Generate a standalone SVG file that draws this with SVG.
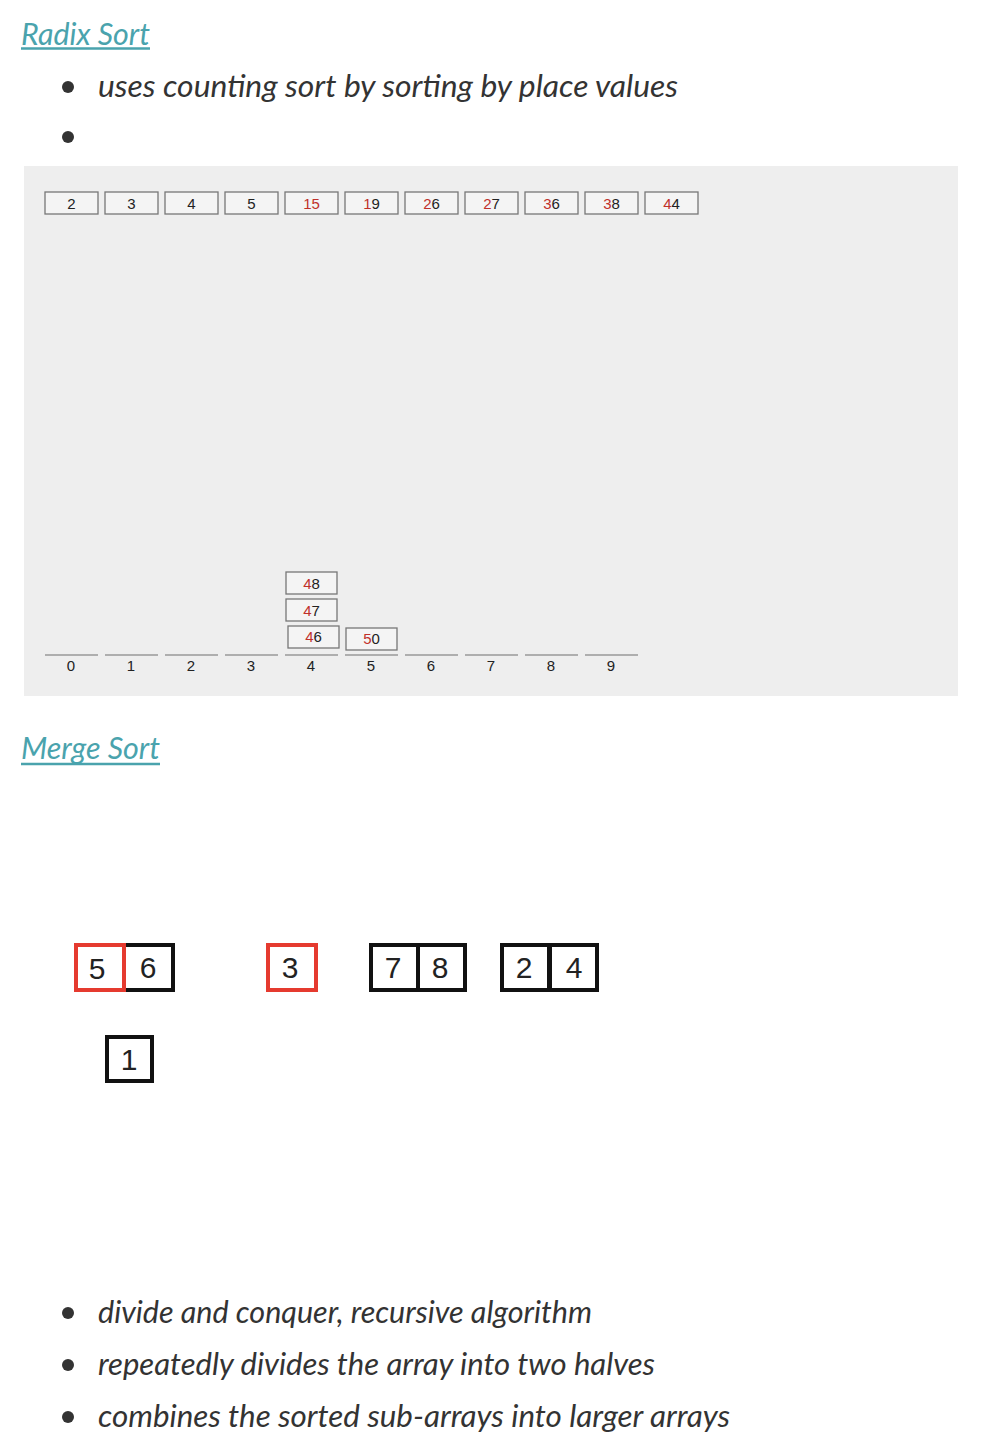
<svg xmlns="http://www.w3.org/2000/svg" width="982" height="1452" viewBox="0 0 982 1452">
<style>
.h{font-family:Lato,"Open Sans",sans-serif;font-style:italic;font-size:30px;fill:#4aa3ad}
.ul{stroke:#4aa3ad;stroke-width:2.5}
.t{font-family:Lato,"Open Sans",sans-serif;font-style:italic;font-size:30px;fill:#333}
.dot{fill:#333}
.cell{fill:#f4f4f4;stroke:#777;stroke-width:1.3}
.ct{font-family:"Liberation Sans",Arial,sans-serif;font-size:15px;fill:#222;text-anchor:middle}
.r{fill:#c0302a}
.bl{stroke:#999;stroke-width:1.5}
.lb{font-family:"Liberation Sans",Arial,sans-serif;font-size:15px;fill:#222;text-anchor:middle}
.mb{fill:#fff;stroke:#111;stroke-width:4}
.mr{fill:#fff;stroke:#e53a2f;stroke-width:4}
.mt{font-family:"Liberation Sans",Arial,sans-serif;font-size:30px;fill:#222;text-anchor:middle}
</style>
<rect width="982" height="1452" fill="#fff"/>
<g id="radix-heading">
<text class="h" x="21" y="45" textLength="129" lengthAdjust="spacingAndGlyphs">Radix Sort</text>
<line class="ul" x1="21" y1="48.5" x2="150" y2="48.5"/>
</g>
<g id="radix-bullets">
<circle class="dot" cx="68" cy="87" r="6"/>
<text class="t" x="98" y="97" textLength="580" lengthAdjust="spacingAndGlyphs">uses counting sort by sorting by place values</text>
<circle class="dot" cx="68" cy="137" r="6"/>
</g>
<g id="radix-panel">
<rect x="24" y="166" width="934" height="530" fill="#eeeeee"/>
</g>
<g id="radix-row">
<rect class="cell" x="45" y="192" width="53" height="22"/><text class="ct" x="71.5" y="209">2</text>
<rect class="cell" x="105" y="192" width="53" height="22"/><text class="ct" x="131.5" y="209">3</text>
<rect class="cell" x="165" y="192" width="53" height="22"/><text class="ct" x="191.5" y="209">4</text>
<rect class="cell" x="225" y="192" width="53" height="22"/><text class="ct" x="251.5" y="209">5</text>
<rect class="cell" x="285" y="192" width="53" height="22"/><text class="ct" x="311.5" y="209"><tspan class="r">1</tspan><tspan class="r">5</tspan></text>
<rect class="cell" x="345" y="192" width="53" height="22"/><text class="ct" x="371.5" y="209"><tspan class="r">1</tspan>9</text>
<rect class="cell" x="405" y="192" width="53" height="22"/><text class="ct" x="431.5" y="209"><tspan class="r">2</tspan>6</text>
<rect class="cell" x="465" y="192" width="53" height="22"/><text class="ct" x="491.5" y="209"><tspan class="r">2</tspan>7</text>
<rect class="cell" x="525" y="192" width="53" height="22"/><text class="ct" x="551.5" y="209"><tspan class="r">3</tspan>6</text>
<rect class="cell" x="585" y="192" width="53" height="22"/><text class="ct" x="611.5" y="209"><tspan class="r">3</tspan>8</text>
<rect class="cell" x="645" y="192" width="53" height="22"/><text class="ct" x="671.5" y="209"><tspan class="r">4</tspan>4</text>
</g>
<g id="radix-buckets">
<line class="bl" x1="45" y1="655" x2="98" y2="655"/><text class="lb" x="71" y="671">0</text>
<line class="bl" x1="105" y1="655" x2="158" y2="655"/><text class="lb" x="131" y="671">1</text>
<line class="bl" x1="165" y1="655" x2="218" y2="655"/><text class="lb" x="191" y="671">2</text>
<line class="bl" x1="225" y1="655" x2="278" y2="655"/><text class="lb" x="251" y="671">3</text>
<line class="bl" x1="285" y1="655" x2="338" y2="655"/><text class="lb" x="311" y="671">4</text>
<line class="bl" x1="345" y1="655" x2="398" y2="655"/><text class="lb" x="371" y="671">5</text>
<line class="bl" x1="405" y1="655" x2="458" y2="655"/><text class="lb" x="431" y="671">6</text>
<line class="bl" x1="465" y1="655" x2="518" y2="655"/><text class="lb" x="491" y="671">7</text>
<line class="bl" x1="525" y1="655" x2="578" y2="655"/><text class="lb" x="551" y="671">8</text>
<line class="bl" x1="585" y1="655" x2="638" y2="655"/><text class="lb" x="611" y="671">9</text>
</g>
<g id="radix-stack">
<rect class="cell" x="286" y="572" width="51" height="22"/><text class="ct" x="311.5" y="589"><tspan class="r">4</tspan>8</text>
<rect class="cell" x="286" y="599" width="51" height="22"/><text class="ct" x="311.5" y="616"><tspan class="r">4</tspan>7</text>
<rect class="cell" x="288" y="626" width="51" height="22"/><text class="ct" x="313.5" y="642"><tspan class="r">4</tspan>6</text>
<rect class="cell" x="346" y="628" width="51" height="22"/><text class="ct" x="371.5" y="644"><tspan class="r">5</tspan>0</text>
</g>
<g id="merge-heading">
<text class="h" x="21" y="759" textLength="139" lengthAdjust="spacingAndGlyphs">Merge Sort</text>
<line class="ul" x1="21" y1="764" x2="160" y2="764"/>
</g>
<g id="merge-56">
<rect class="mb" x="124" y="945" width="49" height="45"/>
<rect class="mr" x="76" y="945" width="48" height="45"/>
<text class="mt" x="97" y="979">5</text>
<text class="mt" x="148" y="978">6</text>
</g>
<g id="merge-3">
<rect class="mr" x="268" y="945" width="48" height="45"/>
<text class="mt" x="290" y="978">3</text>
</g>
<g id="merge-78">
<rect class="mb" x="371" y="945" width="47" height="45"/>
<rect class="mb" x="418" y="945" width="47" height="45"/>
<text class="mt" x="393" y="978">7</text>
<text class="mt" x="440" y="978">8</text>
</g>
<g id="merge-24">
<rect class="mb" x="502" y="945" width="47" height="45"/>
<rect class="mb" x="550" y="945" width="47" height="45"/>
<text class="mt" x="524" y="978">2</text>
<text class="mt" x="574" y="978">4</text>
</g>
<g id="merge-1">
<rect class="mb" x="107" y="1037" width="45" height="44"/>
<text class="mt" x="129" y="1070">1</text>
</g>
<g id="merge-bullets">
<circle class="dot" cx="68" cy="1313" r="6"/>
<text class="t" x="98" y="1323" textLength="494" lengthAdjust="spacingAndGlyphs">divide and conquer, recursive algorithm</text>
<circle class="dot" cx="68" cy="1365" r="6"/>
<text class="t" x="98" y="1375" textLength="557" lengthAdjust="spacingAndGlyphs">repeatedly divides the array into two halves</text>
<circle class="dot" cx="68" cy="1417" r="6"/>
<text class="t" x="98" y="1427" textLength="632" lengthAdjust="spacingAndGlyphs">combines the sorted sub-arrays into larger arrays</text>
</g>
</svg>
